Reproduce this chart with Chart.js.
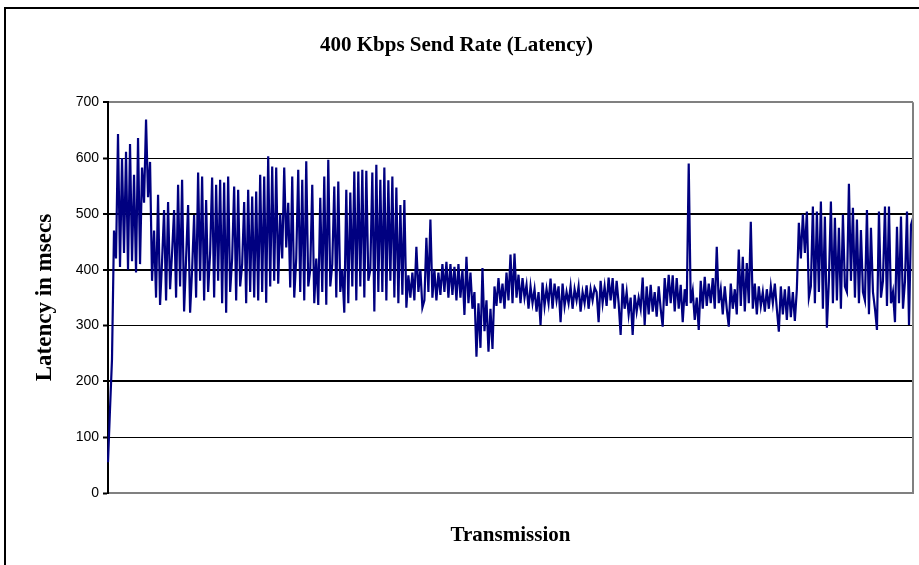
<!DOCTYPE html>
<html>
<head>
<meta charset="utf-8">
<title>400 Kbps Send Rate (Latency)</title>
<script src="https://cdn.jsdelivr.net/npm/chart.js@4.4.1/dist/chart.umd.min.js"></script>
<style>
  html, body { margin: 0; padding: 0; background: #fff; }
  #wrap { position: relative; width: 919px; height: 565px; overflow: hidden; }
  #frame { position: absolute; left: 4px; top: 7px; width: 960px; height: 600px; border: 2px solid #000; }
  #myChart { position: absolute; left: 0; top: 0; }
</style>
</head>
<body>
<div id="wrap">
  <div id="frame"></div>
  <canvas id="myChart" width="919" height="565"></canvas>
</div>
<script>
// values, left to right (msecs)
var latency = [
  55, 150, 240, 470,
  420, 643, 405, 600, 430, 611, 400, 625, 415, 570, 395, 636, 410, 583, 520, 669, 530, 593,
  380, 470, 350, 534, 337, 415, 507, 345, 521, 365, 430, 507, 350, 552, 370, 561, 325, 420,
  516, 323, 400, 498, 350, 574, 380, 567, 345, 525, 360, 430, 565, 350, 552, 380, 561, 340,
  556, 323, 567, 360, 420, 549, 345, 543, 370, 410, 521, 340,
  543, 360, 531, 350, 540, 345, 570, 360, 567, 341, 603, 370, 585, 380, 583, 375, 500, 420,
  583, 440, 520, 368, 567, 350, 420, 579, 360, 561, 345, 594, 370, 400, 552, 340, 420, 337,
  529, 360, 567, 337, 597, 370, 410, 549, 350, 558, 360, 400, 323, 543, 340, 538, 370, 576,
  345, 576, 370, 579, 350, 577, 380, 400, 574, 325, 588, 360,
  561, 360, 583, 345, 560, 380, 567, 350, 547, 340, 516, 355, 525, 332,
  390, 350, 395, 345, 441, 360, 400, 332, 345, 457, 360, 490, 350, 400, 345, 395, 355, 410,
  360, 414, 350, 410, 355, 405, 345, 410, 350, 400, 319, 423, 340, 395, 330,
  360, 244, 340, 260, 403, 290, 345, 253, 330, 258, 370,
  335, 385, 340, 375, 330, 395, 345, 427, 340, 429, 350,
  391, 340, 385, 350, 373, 330, 370, 340, 365, 325, 360, 301, 377, 335, 365, 340, 384, 330,
  375, 345, 370, 306, 375, 335, 360, 340, 370, 330, 365, 345, 370, 325, 360, 340, 372, 330,
  365, 345, 368, 360, 306, 380, 340, 370, 335, 386, 345, 385, 330, 380, 340, 283, 375, 330,
  360, 320, 350, 283, 355, 325, 350, 330, 386, 301, 370, 320,
  373, 325, 360, 316, 370, 330, 298, 385, 335, 391, 340, 390, 325, 385, 330, 373, 306, 365,
  335, 590, 340, 362, 310, 350, 292, 380, 330, 387, 335, 375, 340, 385, 330, 441, 340, 365,
  320, 370, 330, 298, 375, 330, 365, 320, 436, 335, 423, 325, 412, 340, 486, 330, 375, 320,
  370, 335, 360, 325, 365, 330, 370, 340, 375, 330, 289, 370,
  320, 365, 310, 370, 315, 360, 308, 365,
  484, 420, 499, 430, 504, 350, 370, 513, 340, 504, 360, 522, 330, 495, 296, 380, 522, 340,
  493, 345, 475, 330, 499, 370, 360, 554, 380, 511, 350, 490, 340, 471, 360, 345, 507, 320,
  475, 360, 330, 292, 504, 350, 380, 513, 335, 513, 340, 360, 306, 477, 340, 495, 330, 380,
  504, 301, 480, 493
];
var transmission = latency.map(function(v, i) { return i + 1; });
var yTicks = [0, 100, 200, 300, 400, 500, 600, 700];
var thickLines = [200, 400, 500];

var plotFrame = {
  id: "plotFrame",
  afterDraw: function(chart) {
    var a = chart.chartArea;
    var ctx = chart.ctx;
    ctx.save();
    ctx.strokeStyle = "#808080";
    ctx.lineWidth = 2;
    ctx.beginPath();
    ctx.moveTo(a.right, a.top);
    ctx.lineTo(a.right, a.bottom);
    ctx.stroke();
    ctx.restore();
  }
};

function init() {
  var ctx = document.getElementById("myChart").getContext("2d");
  new Chart(ctx, {
    type: "line",
    data: {
      labels: transmission,
      datasets: [{
        label: "Latency",
        data: latency,
        borderColor: "#000080",
        borderWidth: 2.2,
        pointRadius: 0,
        tension: 0,
        fill: false
      }]
    },
    options: {
      responsive: false,
      animation: false,
      events: [],
      layout: { padding: { left: 0, right: 6, top: 0, bottom: 0 } },
      plugins: {
        legend: { display: false },
        tooltip: { enabled: false },
        title: {
          display: true,
          text: "400 Kbps Send Rate (Latency)",
          color: "#000",
          font: { family: "'Liberation Serif', 'Times New Roman', serif", size: 21, weight: "bold" },
          padding: { top: 33, bottom: 44 }
        }
      },
      scales: {
        x: {
          type: "category",
          offset: false,
          grid: { display: false, drawTicks: false },
          border: { display: true, color: "#808080", width: 2 },
          ticks: { display: false },
          title: {
            display: true,
            text: "Transmission",
            color: "#000",
            font: { family: "'Liberation Serif', 'Times New Roman', serif", size: 21, weight: "bold" },
            padding: { top: 0, bottom: 17 }
          },
          afterFit: function(s) { s.height = 72; }
        },
        y: {
          min: 0,
          max: 700,
          afterBuildTicks: function(s) {
            s.ticks = yTicks.map(function(v) { return { value: v }; });
          },
          grid: {
            color: function(c) {
              var v = c.tick ? c.tick.value : 0;
              return (v === 700 || v === 0) ? "#808080" : "#000";
            },
            lineWidth: function(c) {
              var v = c.tick ? c.tick.value : 0;
              return (thickLines.indexOf(v) >= 0 || v === 700) ? 2 : 1;
            },
            tickColor: "#000",
            tickLength: 5,
            tickWidth: 2
          },
          border: { display: true, color: "#000", width: 2 },
          ticks: {
            color: "#000",
            padding: 4,
            font: { family: "'Liberation Sans', Arial, sans-serif", size: 14 }
          },
          title: {
            display: true,
            text: "Latency in msecs",
            color: "#000",
            font: { family: "'Liberation Serif', 'Times New Roman', serif", size: 23, weight: "bold" },
            padding: { top: 31, bottom: 0 }
          },
          afterFit: function(s) { s.width = 108; }
        }
      }
    },
    plugins: [plotFrame]
  });
}

init();
</script>
</body>
</html>
